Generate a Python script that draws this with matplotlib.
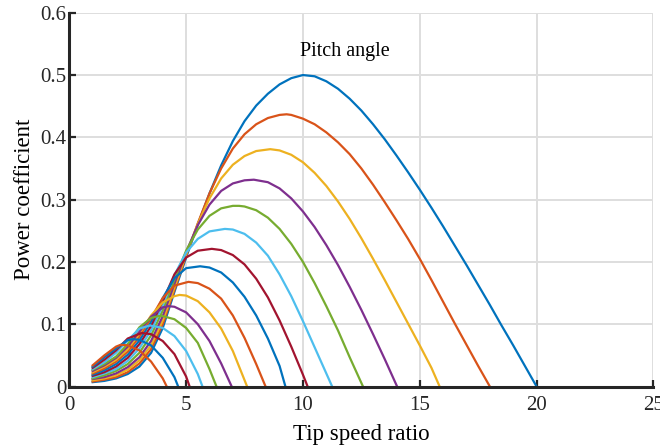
import matplotlib
matplotlib.use("Agg")
import matplotlib.pyplot as plt

# power coefficient vs tip speed ratio, one curve per pitch angle
x0 = [1, 1.5, 2, 2.5, 3, 3.5, 4, 4.5, 5, 5.5, 6, 6.5, 7, 7.5, 8, 8.5, 9, 9.5, 10, 10.5, 11, 11.5, 12, 12.5, 13, 13.5, 14, 14.5, 15, 15.5, 16, 16.5, 17, 17.5, 18, 18.5, 19, 19.5, 20]
y0 = [.007, .009, .013, .020, .032, .054, .094, .152, .207, .260, .310, .355, .394, .426, .451, .470, .485, .495, .500, .498, .490, .478, .462, .443, .421, .397, .371, .344, .316, .287, .257, .226, .195, .163, .131, .098, .066, .033, 0]
x1 = [1, 1.5, 2, 2.5, 3, 3.5, 4, 4.5, 5, 5.5, 6, 6.5, 7, 7.5, 8, 8.5, 9, 9.3, 9.5, 10, 10.5, 11, 11.5, 12, 12.5, 13, 13.5, 14, 14.5, 15, 15.5, 16, 16.5, 17, 17.5, 18]
y1 = [.008, .011, .015, .023, .037, .060, .100, .155, .210, .262, .310, .350, .382, .405, .421, .431, .436, .437, .436, .430, .421, .408, .392, .373, .350, .324, .296, .267, .237, .205, .171, .136, .101, .067, .033, 0]
x2 = [1, 1.5, 2, 2.5, 3, 3.5, 4, 4.5, 5, 5.5, 6, 6.5, 7, 7.5, 8, 8.6, 9, 9.5, 10, 10.5, 11, 11.5, 12, 12.5, 13, 13.5, 14, 14.5, 15, 15.5, 15.85]
y2 = [.010, .013, .018, .027, .042, .066, .106, .159, .212, .261, .302, .334, .356, .370, .378, .381, .379, .372, .360, .343, .322, .297, .269, .238, .205, .171, .136, .101, .066, .030, 0]
x3 = [1, 1.5, 2, 2.5, 3, 3.5, 4, 4.5, 5, 5.5, 6, 6.5, 7, 7.5, 7.9, 8.5, 9, 9.5, 10, 10.5, 11, 11.5, 12, 12.5, 13, 13.5, 14.03]
y3 = [.012, .015, .021, .031, .047, .073, .113, .165, .216, .259, .292, .314, .326, .331, .332, .328, .318, .302, .281, .256, .227, .195, .160, .123, .084, .044, 0]
x4 = [1, 1.5, 2, 2.5, 3, 3.5, 4, 4.5, 5, 5.5, 6, 6.5, 7, 7.27, 7.5, 8, 8.5, 9, 9.5, 10, 10.5, 11, 11.5, 12, 12.57]
y4 = [.013, .018, .025, .036, .054, .082, .122, .172, .218, .252, .274, .286, .290, .290, .289, .283, .271, .253, .229, .200, .166, .129, .090, .047, 0]
x5 = [1, 1.5, 2, 2.5, 3, 3.5, 4, 4.5, 5, 5.5, 6, 6.66, 7, 7.5, 8, 8.5, 9, 9.5, 10, 10.5, 11, 11.25]
y5 = [.015, .021, .028, .041, .061, .090, .130, .179, .215, .237, .249, .253, .252, .245, .231, .210, .180, .145, .105, .063, .021, 0]
x6 = [1, 1.5, 2, 2.5, 3, 3.5, 4, 4.5, 5, 5.5, 6.1, 6.5, 7, 7.5, 8, 8.5, 9, 9.5, 10, 10.2]
y6 = [.017, .023, .032, .046, .068, .097, .137, .180, .207, .218, .221, .219, .211, .196, .173, .143, .106, .064, .019, 0]
x7 = [1, 1.5, 2, 2.5, 3, 3.5, 4, 4.5, 5, 5.6, 6, 6.5, 7, 7.5, 8, 8.5, 9, 9.25]
y7 = [.019, .026, .036, .051, .074, .104, .142, .174, .190, .193, .191, .183, .167, .144, .114, .077, .033, 0]
x8 = [1, 1.5, 2, 2.5, 3, 3.5, 4, 4.5, 5.1, 5.5, 6, 6.5, 7, 7.5, 8, 8.4]
y8 = [.021, .029, .040, .056, .080, .110, .142, .162, .168, .166, .157, .141, .114, .078, .036, 0]
x9 = [1, 1.5, 2, 2.5, 3, 3.5, 4, 4.5, 4.72, 5, 5.5, 6, 6.5, 7, 7.61]
y9 = [.023, .032, .043, .060, .085, .114, .135, .145, .147, .146, .137, .119, .093, .057, 0]
x10 = [1, 1.5, 2, 2.5, 3, 3.5, 4, 4.25, 4.5, 5, 5.5, 6, 6.5, 6.95]
y10 = [.025, .034, .046, .064, .088, .112, .127, .129, .128, .119, .100, .073, .037, 0]
x11 = [1, 1.5, 2, 2.5, 3, 3.5, 3.8, 4, 4.5, 5, 5.5, 6, 6.3]
y11 = [.027, .036, .048, .068, .095, .110, .113, .113, .108, .094, .070, .028, 0]
x12 = [1, 1.5, 2, 2.5, 3, 3.45, 4, 4.5, 5, 5.5, 5.7]
y12 = [.028, .039, .054, .074, .093, .098, .094, .081, .057, .020, 0]
x13 = [1, 1.5, 2, 2.5, 3.1, 3.5, 4, 4.5, 5, 5.15]
y13 = [.030, .043, .058, .077, .086, .084, .073, .052, .016, 0]
x14 = [1, 1.5, 2, 2.5, 2.72, 3, 3.5, 4, 4.5, 4.66]
y14 = [.032, .047, .061, .0745, .076, .075, .066, .046, .015, 0]
x15 = [1, 1.5, 2, 2.2, 2.5, 3, 3.5, 4, 4.17]
y15 = [.034, .050, .064, .067, .066, .058, .040, .013, 0]

xs = [x0, x1, x2, x3, x4, x5, x6, x7, x8, x9, x10, x11, x12, x13, x14, x15]
ys = [y0, y1, y2, y3, y4, y5, y6, y7, y8, y9, y10, y11, y12, y13, y14, y15]

# matlab default line colours
colors = ['#0072BD', '#D95319', '#EDB120', '#7E2F8E', '#77AC30', '#4DBEEE', '#A2142F']

plt.rcParams['font.family'] = ['Liberation Serif', 'DejaVu Serif']

fig = plt.figure(figsize=(6.6, 4.46), dpi=100)
ax = fig.add_axes([0.105, 0.1334, 0.885, 0.838])

for i in range(len(xs)):
    ax.plot(xs[i], ys[i], color=colors[i % len(colors)], lw=1.6,
            solid_joinstyle='round')

ax.set_xlim(0, 25)
ax.set_ylim(0, 0.6)
ax.set_xticks([0, 5, 10, 15, 20, 25])
ax.set_yticks([0, 0.1, 0.2, 0.3, 0.4, 0.5, 0.6])
ax.set_yticklabels(['0', '0.1', '0.2', '0.3', '0.4', '0.5', '0.6'])
ax.grid(True, color='#dedede', lw=1.4)
ax.set_axisbelow(True)

for s in ['top', 'right']:
    ax.spines[s].set_visible(False)
for s in ['left', 'bottom']:
    ax.spines[s].set_linewidth(2.2)
    ax.spines[s].set_color('#262626')
ax.tick_params(direction='in', length=5, width=1.6, colors='#262626', labelsize=15)
ax.tick_params(axis='y', pad=2)
ax.tick_params(axis='x', pad=7)

ax.set_xlabel('Tip speed ratio', fontsize=16.5, labelpad=6)
ax.set_ylabel('Power coefficient', fontsize=16.5, labelpad=4)
ax.text(11.8, 0.537, 'Pitch angle', fontsize=14.5, ha='center', va='center')

fig.savefig('out.png', dpi=100)
